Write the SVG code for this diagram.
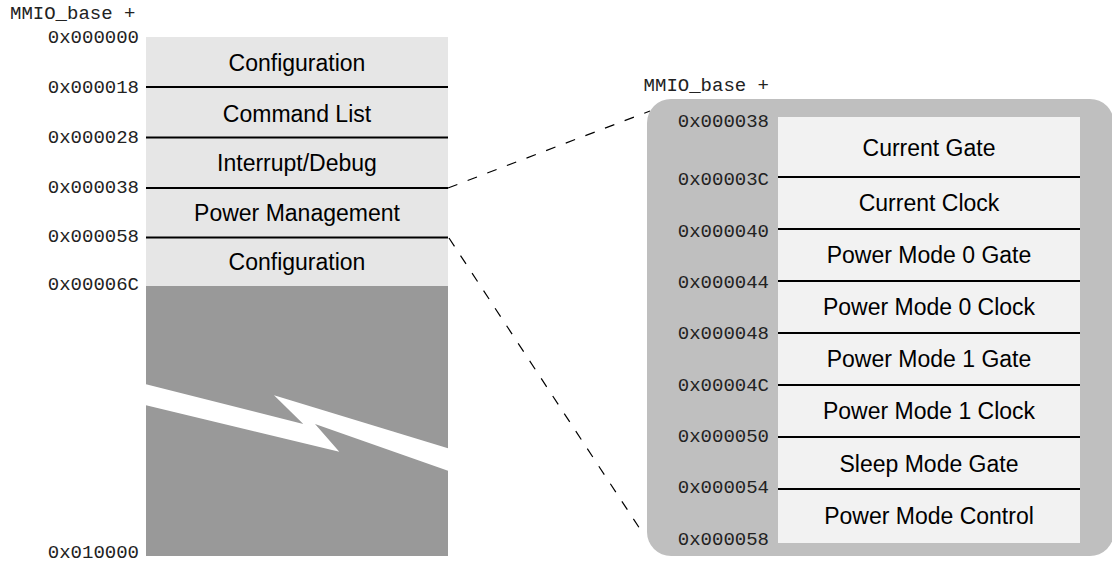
<svg xmlns="http://www.w3.org/2000/svg" width="1112" height="563" viewBox="0 0 1112 563">
<style>
.mono{font-family:"Liberation Mono","Courier New",monospace;font-size:19px;fill:#222}
.end{text-anchor:end}
.lbl{font-family:"Liberation Sans",Arial,sans-serif;font-size:23px;fill:#000;text-anchor:middle}
.sep{stroke:#000;stroke-width:2}
.dash{stroke:#000;stroke-width:1.2;stroke-dasharray:10 11;fill:none}
</style>
<rect width="1112" height="563" fill="#fff"/>
<g id="left-map">
<rect x="146" y="37" width="302" height="249" fill="#e6e6e6"/>
<rect x="146" y="286" width="302" height="270" fill="#999"/>
<polygon points="146,384.3 303.3,424 274,395.3 448,448.3 448,470.7 315,424 339.3,451.7 146,405.3" fill="#fff"/>
<line class="sep" x1="146" y1="87" x2="448" y2="87"/>
<line class="sep" x1="146" y1="137.5" x2="448" y2="137.5"/>
<line class="sep" x1="146" y1="188" x2="448" y2="188"/>
<line class="sep" x1="146" y1="237.5" x2="448" y2="237.5"/>
<text class="mono" x="10" y="19">MMIO_base +</text>
<text class="mono end" x="139" y="43">0x000000</text>
<text class="mono end" x="139" y="93">0x000018</text>
<text class="mono end" x="139" y="143">0x000028</text>
<text class="mono end" x="139" y="193">0x000038</text>
<text class="mono end" x="139" y="242">0x000058</text>
<text class="mono end" x="139" y="290">0x00006C</text>
<text class="mono end" x="139" y="558">0x010000</text>
</g>
<g id="row-configuration-1"><text class="lbl" x="297" y="71">Configuration</text></g>
<g id="row-command-list"><text class="lbl" x="297" y="121.5">Command List</text></g>
<g id="row-interrupt-debug"><text class="lbl" x="297" y="171">Interrupt/Debug</text></g>
<g id="row-power-management"><text class="lbl" x="297" y="221">Power Management</text></g>
<g id="row-configuration-2"><text class="lbl" x="297" y="270">Configuration</text></g>
<g id="connectors">
<line class="dash" x1="448" y1="188" x2="650" y2="111"/>
<line class="dash" x1="449" y1="238" x2="642" y2="532"/>
</g>
<g id="power-detail">
<rect x="647" y="99" width="467" height="457" rx="24" ry="24" fill="#bfbfbf"/>
<rect x="778" y="117" width="302" height="426" fill="#f2f2f2"/>
<line class="sep" x1="778" y1="177" x2="1080" y2="177"/>
<line class="sep" x1="778" y1="229" x2="1080" y2="229"/>
<line class="sep" x1="778" y1="281" x2="1080" y2="281"/>
<line class="sep" x1="778" y1="333" x2="1080" y2="333"/>
<line class="sep" x1="778" y1="385" x2="1080" y2="385"/>
<line class="sep" x1="778" y1="437" x2="1080" y2="437"/>
<line class="sep" x1="778" y1="489" x2="1080" y2="489"/>
<text class="mono end" x="769" y="91">MMIO_base +</text>
<text class="mono end" x="769" y="127">0x000038</text>
<text class="mono end" x="769" y="185">0x00003C</text>
<text class="mono end" x="769" y="236.5">0x000040</text>
<text class="mono end" x="769" y="288">0x000044</text>
<text class="mono end" x="769" y="339">0x000048</text>
<text class="mono end" x="769" y="390.5">0x00004C</text>
<text class="mono end" x="769" y="441.5">0x000050</text>
<text class="mono end" x="769" y="493">0x000054</text>
<text class="mono end" x="769" y="545">0x000058</text>
</g>
<g id="reg-current-gate"><text class="lbl" x="929" y="156">Current Gate</text></g>
<g id="reg-current-clock"><text class="lbl" x="929" y="211">Current Clock</text></g>
<g id="reg-pm0-gate"><text class="lbl" x="929" y="263">Power Mode 0 Gate</text></g>
<g id="reg-pm0-clock"><text class="lbl" x="929" y="315">Power Mode 0 Clock</text></g>
<g id="reg-pm1-gate"><text class="lbl" x="929" y="367">Power Mode 1 Gate</text></g>
<g id="reg-pm1-clock"><text class="lbl" x="929" y="419">Power Mode 1 Clock</text></g>
<g id="reg-sleep-gate"><text class="lbl" x="929" y="471.5">Sleep Mode Gate</text></g>
<g id="reg-pm-control"><text class="lbl" x="929" y="524">Power Mode Control</text></g>
</svg>
